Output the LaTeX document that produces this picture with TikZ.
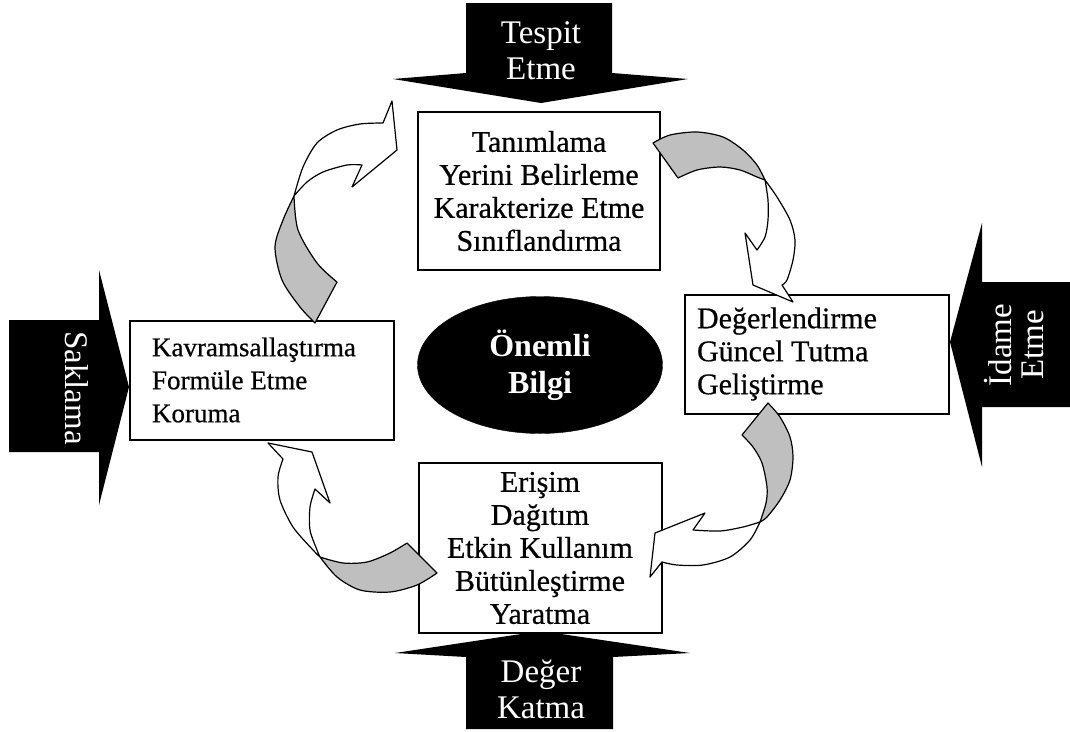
\documentclass[tikz,border=0pt]{standalone}
\usepackage{fontspec}
\setmainfont{Liberation Serif}
\newfontfamily\kutufont[FakeBold=0.6]{Liberation Serif}
\usetikzlibrary{shapes.geometric}

\begin{document}
\begin{tikzpicture}[x=1pt,y=-1pt,
    kutu/.style={draw,fill=white,line width=2pt,inner sep=0pt,font=\kutufont\fontsize{30}{33}\selectfont},
    etiket/.style={text=white,align=center,font=\fontsize{33}{36}\selectfont},
    arkayuz/.style={draw,line width=1.2pt,fill=black!25,line join=round},
    onyuz/.style={draw,line width=1.2pt,fill=white,line join=round}]
        \useasboundingbox (0,0) rectangle (1070,731);

        \fill (466,3) -- (612,3) -- (612,73) -- (688,79) -- (541,103) -- (393,79) -- (466,73) -- cycle;
        \fill (9,320) -- (99,320) -- (99,270) -- (129,387) -- (99,505) -- (99,452) -- (9,452) -- cycle;
        \fill (1070,282) -- (982,282) -- (982,223) -- (950,342) -- (982,467) -- (982,407) -- (1070,407) -- cycle;
        \fill (466,729) -- (613,729) -- (613,657) -- (690,653) -- (541,631) -- (395,653) -- (466,657) -- cycle;

        \node (ust) [kutu,minimum width=242pt,minimum height=158pt,align=center] at (539,191) {Tanımlama\\Yerini Belirleme\\Karakterize Etme\\Sınıflandırma};
        \node (sol) [kutu,minimum height=119pt,text width=220pt,inner xsep=22pt,align=flush left,font=\kutufont\fontsize{27}{33}\selectfont] at (262,380) {Kavramsallaştırma\\Formüle Etme\\Koruma};
        \node (sag) [kutu,minimum height=119pt,text width=240pt,inner xsep=12pt,align=flush left] at (817,354) {Değerlendirme\\Güncel Tutma\\Geliştirme};
        \node (alt) [kutu,minimum width=243pt,minimum height=170pt,align=center] at (540,548) {Erişim\\Dağıtım\\Etkin Kullanım\\Bütünleştirme\\Yaratma};

        \node (bilgi) [ellipse,draw,fill=black,minimum width=245pt,minimum height=137pt,text=white,align=center,font=\bfseries\fontsize{32}{37}\selectfont] at (540,365) {Önemli\\Bilgi};

        \filldraw[arkayuz] plot[smooth] coordinates {(315,323) (300,307) (282,280) (275,247) (283,220) (294,196)} -- plot[smooth] coordinates {(294,196) (298,230) (317,263) (337,282)} -- cycle;
        \filldraw[onyuz] plot[smooth] coordinates {(294,196) (303,167) (317,143) (337,130) (360,124) (383,123)} -- (392,101) -- (397,150) -- (352,187) -- plot[smooth] coordinates {(362,165) (347,165) (323,172) (307,182) (294,196)} -- cycle;

        \filldraw[arkayuz] plot[smooth] coordinates {(653,143) (670,135) (697,132) (723,137) (743,150) (757,165) (765,180)} -- plot[smooth] coordinates {(765,180) (757,177) (740,170) (720,167) (697,170) (678,178)} -- cycle;
        \filldraw[onyuz] plot[smooth] coordinates {(765,180) (777,197) (790,220) (795,240) (793,260) (787,280) (782,285)} -- (793,302) -- (753,285) -- (745,233) -- plot[smooth] coordinates {(757,250) (765,237) (768,220) (768,200) (765,180)} -- cycle;

        \filldraw[arkayuz] plot[smooth] coordinates {(768,403) (780,417) (790,437) (793,457) (790,480) (780,500) (767,517) (760,522)} -- plot[smooth] coordinates {(760,522) (766,503) (767,487) (762,463) (753,447) (742,435)} -- cycle;
        \filldraw[onyuz] plot[smooth] coordinates {(760,522) (743,527) (720,531) (693,530)} -- (705,513) -- (655,533) -- (650,577) -- plot[smooth] coordinates {(662,562) (677,565) (703,565) (730,557) (750,540) (760,522)} -- cycle;

        \filldraw[arkayuz] plot[smooth] coordinates {(407,543) (390,553) (367,562) (343,563) (320,557)} -- plot[smooth] coordinates {(320,557) (337,577) (360,590) (390,592) (417,585) (437,573)} -- cycle;
        \filldraw[onyuz] plot[smooth] coordinates {(320,557) (313,550) (293,527) (280,500) (278,477) (283,459)} -- (268,443) -- (312,452) -- (330,503) -- plot[smooth] coordinates {(315,489) (310,507) (310,530) (317,550) (320,557)} -- cycle;

        \node (tespit) [etiket] at (541,51) {Tespit\\Etme};
        \node (saklama) [etiket,rotate=-90] at (77,388) {Saklama};
        \node (idame) [etiket,rotate=90,font=\fontsize{33}{32}\selectfont] at (1014,345) {İdame\\Etme};
        \node (deger) [etiket] at (541,689) {Değer\\Katma};
      \end{tikzpicture}
\end{document}
